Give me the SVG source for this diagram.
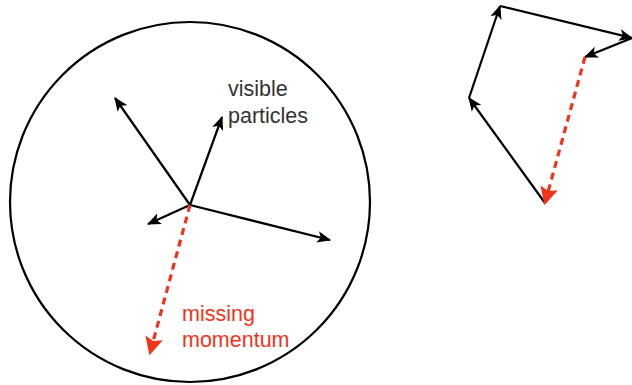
<svg xmlns="http://www.w3.org/2000/svg" width="632" height="385" viewBox="0 0 632 385">
<style>
.v{stroke:#000;stroke-width:2.2;fill:none;marker-end:url(#ab)}
.m{stroke:#f0341c;stroke-width:3.2;fill:none;stroke-dasharray:7 5;marker-end:url(#ar)}
.t{font-family:"Liberation Sans",Arial,sans-serif;font-size:21.5px}
</style>
<defs>
<marker id="ab" markerUnits="userSpaceOnUse" markerWidth="14" markerHeight="12" refX="11" refY="5" orient="auto" viewBox="0 0 12 10"><path d="M0,0 L12,5 L0,10 L3,5 z" fill="#000"/></marker>
<marker id="ar" markerUnits="userSpaceOnUse" markerWidth="20" markerHeight="18" refX="14" refY="8" orient="auto" viewBox="0 0 16 16"><path d="M0,0 L16,8 L0,16 L3,8 z" fill="#f0341c"/></marker>
</defs>
<rect width="632" height="385" fill="#fff"/>
<g id="detector">
<circle cx="190" cy="202" r="180" fill="none" stroke="#000" stroke-width="2.2"/>
</g>
<g id="connectors">
<line class="v" x1="190" y1="205" x2="115" y2="98"/>
<line class="v" x1="190" y1="205" x2="222" y2="117"/>
<line class="v" x1="190" y1="205" x2="148" y2="224"/>
<line class="v" x1="190" y1="205" x2="330" y2="240"/>
<line class="m" x1="190" y1="205" x2="150" y2="353"/>
<line class="v" x1="545" y1="203" x2="469" y2="98"/>
<line class="v" x1="469" y1="98" x2="500" y2="6"/>
<line class="v" x1="500" y1="6" x2="632" y2="38"/>
<line class="v" x1="632" y1="38" x2="585" y2="57"/>
<line class="m" x1="585" y1="57" x2="545" y2="203"/>
</g>
<g id="label-visible">
<text class="t" x="228" y="96" fill="#333">visible</text>
<text class="t" x="228" y="123" fill="#333">particles</text>
</g>
<g id="label-missing">
<text class="t" x="182" y="321" fill="#f0341c">missing</text>
<text class="t" x="182" y="347" fill="#f0341c">momentum</text>
</g>
</svg>
